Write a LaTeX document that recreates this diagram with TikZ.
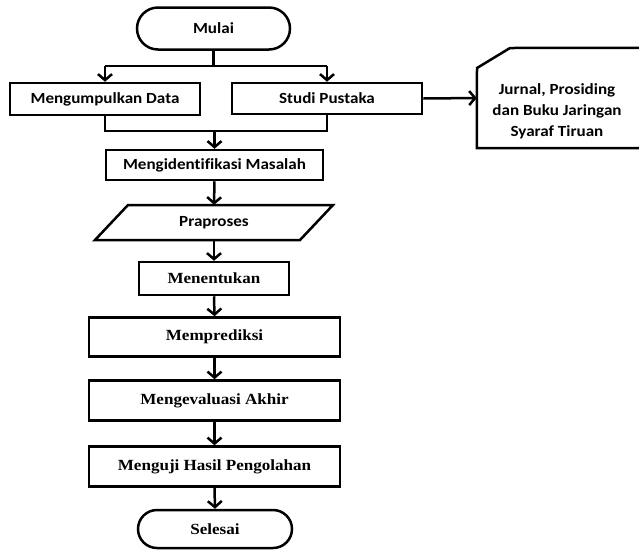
\documentclass[tikz,border=0pt]{standalone}
\usepackage{fontspec}
\usetikzlibrary{arrows.meta}
\newfontfamily\calfont[FakeStretch=1.1,Ligatures=NoCommon]{Carlito}
\newfontfamily\serfont[FakeStretch=1.1]{Liberation Serif}
\tikzset{
  lw/.style={line width=2.5pt},
  boxs/.style={draw, lw, inner sep=0pt, text=black},
  calt/.style={font=\calfont\bfseries\fontsize{15.5}{21}\selectfont},
  sert/.style={font=\serfont\bfseries\fontsize{15.5}{21}\selectfont},
  arr/.style={lw, -{Straight Barb[length=6pt,width=14pt,line width=2.5pt]}},
  conn/.style={lw}
}
\begin{document}
\begin{tikzpicture}[x=1pt,y=-1pt]
\useasboundingbox (0,0) rectangle (639,550);
% nodes
\node[boxs, calt, rounded corners=21pt, minimum width=153, minimum height=42] (mulai) at (213.5,28.5) {Mulai};
\node[boxs, calt, minimum width=190, minimum height=32] (data) at (105,99) {Mengumpulkan Data};
\node[boxs, calt, minimum width=190, minimum height=31] (studi) at (327,98.5) {Studi Pustaka};
\node[boxs, calt, minimum width=217, minimum height=30] (ident) at (214.5,165) {Mengidentifikasi Masalah};
\node[inner sep=0pt, minimum width=238, minimum height=35] (prap) at (214,222.5) {};
\draw[lw] (95,240) -- (128,205) -- (333,205) -- (300,240) -- cycle;
\node[calt] (praptext) at (prap.center) {Praproses};
\node[boxs, sert, minimum width=150, minimum height=33] (menent) at (214,278.5) {Menentukan};
\node[boxs, sert, minimum width=251, minimum height=39] (predik) at (214.5,337) {Memprediksi};
\node[boxs, sert, minimum width=251, minimum height=40] (evalu) at (214.5,400.5) {Mengevaluasi Akhir};
\node[boxs, sert, minimum width=251, minimum height=40] (uji) at (214.5,466.5) {Menguji Hasil Pengolahan};
\node[boxs, sert, rounded corners=19pt, minimum width=154, minimum height=38] (selesai) at (215,529) {Selesai};
% document shape (clipped at right edge)
\node[inner sep=0pt, minimum width=183, minimum height=100] (jur) at (568.5,98) {};
\begin{scope}
\clip (0,0) rectangle (639,550);
\draw[lw] (jur.south west) -- (477,68) -- (510,48) -- (jur.north east) -- (jur.south east) -- cycle;
\end{scope}
\node[calt, align=center] (jurtext) at (557,111) {Jurnal, Prosiding\\dan Buku Jaringan\\Syaraf Tiruan};
% connectors
\coordinate (split) at (213.5,66);
\coordinate (merge) at (213.5,131);
\draw[conn] (mulai.south) -- (split);
\draw[conn] (data.north |- split) -- (studi.north |- split);
\draw[arr] (data.north |- split) -- (data.north);
\draw[arr] (studi.north |- split) -- (studi.north);
\draw[conn] (data.south) -- (data.south |- merge) -- (studi.south |- merge) -- (studi.south);
\draw[arr] (ident.north |- merge) -- (ident.north);
\draw[arr] (studi.east) -- (jur.west);
\draw[arr] (ident.south) -- (prap.north);
\draw[arr] (prap.south) -- (menent.north);
\draw[arr] (menent.south) -- (predik.north);
\draw[arr] (predik.south) -- (evalu.north);
\draw[arr] (evalu.south) -- (uji.north);
\draw[arr] (uji.south) -- (selesai.north);
\end{tikzpicture}
\end{document}
